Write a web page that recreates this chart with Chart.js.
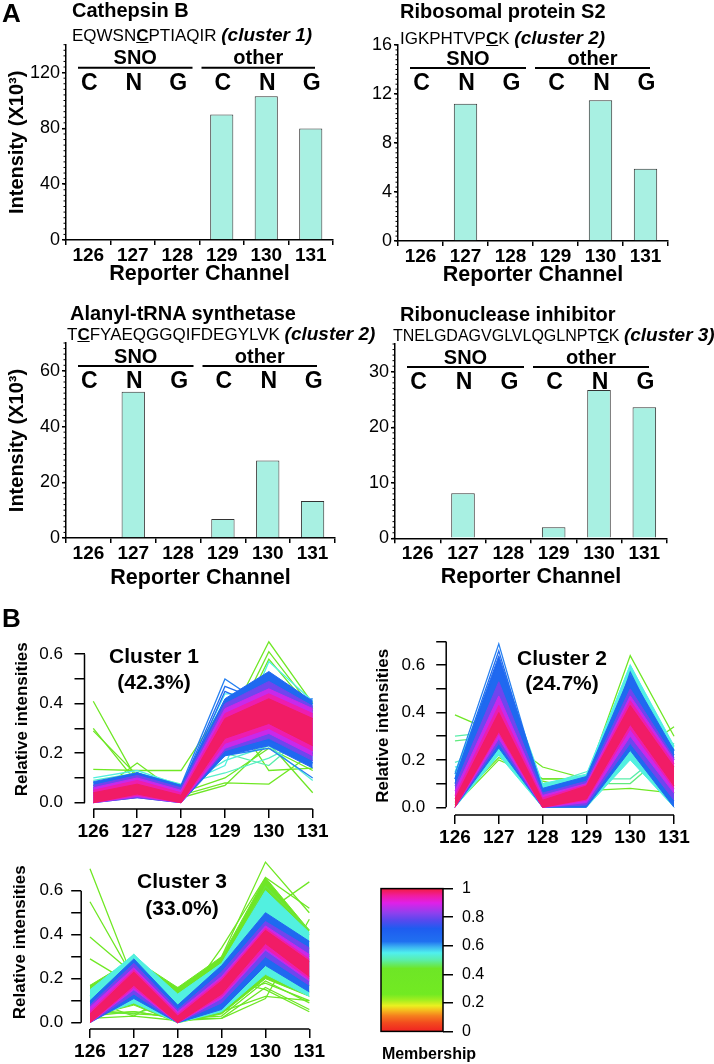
<!DOCTYPE html>
<html>
<head>
<meta charset="utf-8">
<script src="https://cdn.jsdelivr.net/npm/chart.js@4.4.1/dist/chart.umd.min.js"></script>
<style>
  body { margin: 0; background: #fff; }
  #fig { position: relative; width: 714px; height: 1064px; font-family: 'Liberation Sans', Arial, sans-serif; color: #000; overflow: hidden; }
  #fig canvas { position: absolute; }
  .t { position: absolute; white-space: nowrap; line-height: 1; }
  .title { font-weight: bold; font-size: 20px; }
  .seq { font-size: 17px; }
  .seq i { font-weight: bold; font-size: 19px; }
  .clu { font-weight: bold; font-size: 21px; text-align: center; width: 120px; }
</style>
</head>
<body>
<div id="fig">
  <canvas id="a1" width="357" height="290" style="left:0;top:0"></canvas>
  <canvas id="a2" width="357" height="290" style="left:357px;top:0"></canvas>
  <canvas id="a3" width="357" height="300" style="left:0;top:300px"></canvas>
  <canvas id="a4" width="357" height="300" style="left:357px;top:300px"></canvas>
  <canvas id="b1" width="345" height="250" style="left:0;top:595px"></canvas>
  <canvas id="b2" width="357" height="250" style="left:357px;top:595px"></canvas>
  <canvas id="b3" width="345" height="234" style="left:0;top:830px"></canvas>
  <canvas id="cb" width="120" height="180" style="left:370px;top:870px"></canvas>

  <div class="t" style="left:2px;top:0;font-size:26px;font-weight:bold">A</div>
  <div class="t title" style="left:72px;top:0">Cathepsin B</div>
  <div class="t seq" style="left:72px;top:25px">EQWSN<b><u>C</u></b>PTIAQIR <i>(cluster 1)</i></div>
  <div class="t title" style="left:400px;top:1px">Ribosomal protein S2</div>
  <div class="t seq" style="left:400px;top:28px">IGKPHTVP<b><u>C</u></b>K <i>(cluster 2)</i></div>
  <div class="t title" style="left:70px;top:303px">Alanyl-tRNA synthetase</div>
  <div class="t seq" style="left:67px;top:324px">T<b><u>C</u></b>FYAEQGGQIFDEGYLVK <i>(cluster 2)</i></div>
  <div class="t title" style="left:400px;top:304px">Ribonuclease inhibitor</div>
  <div class="t seq" style="left:393px;top:325px;font-size:16px">TNELGDAGVGLVLQGLNPT<b><u>C</u></b>K <i>(cluster 3)</i></div>

  <div class="t" style="left:2px;top:605px;font-size:26px;font-weight:bold">B</div>
  <div class="t clu" style="left:94px;top:645px">Cluster 1</div>
  <div class="t clu" style="left:94px;top:671px">(42.3%)</div>
  <div class="t clu" style="left:502px;top:647px">Cluster 2</div>
  <div class="t clu" style="left:502px;top:672px">(24.7%)</div>
  <div class="t clu" style="left:122px;top:870px">Cluster 3</div>
  <div class="t clu" style="left:122px;top:897px">(33.0%)</div>
  <div class="t" style="left:369px;width:120px;text-align:center;top:1046px;font-size:16px;font-weight:bold">Membership</div>
</div>

<script>
const FONT = "'Liberation Sans', Arial, sans-serif";
Chart.defaults.font.family = FONT;
Chart.defaults.color = '#000';

const channels = ['126', '127', '128', '129', '130', '131'];
const channelNum = [126, 127, 128, 129, 130, 131];
const treatments = ['C', 'N', 'G', 'C', 'N', 'G'];
const groups = ['SNO', 'other'];

// panel A, intensity (x10^3) per reporter channel
const cathepsinB = [0, 0, 0, 90, 103, 80];
const ribosomalS2 = [0, 11.2, 0, 0, 11.5, 5.9];
const alanylTrna = [0, 52.5, 0, 6.8, 27.8, 13.3];
const ribonucInh = [0, 8.1, 0, 2, 26.7, 23.6];

// panel B, axis ticks
const membershipTicks = [0, 0.2, 0.4, 0.6, 0.8, 1];
const relTicks6 = [0, 0.1, 0.2, 0.3, 0.4, 0.5, 0.6];
const relTicks7 = [0, 0.1, 0.2, 0.3, 0.4, 0.5, 0.6, 0.7];

// cluster 1: single profiles and dense bands, each with a membership value
const c1Lines = [
  [0.41, 0.09, 0.06, 0.30, 0.65, 0.40],
  [0.30, 0.08, 0.05, 0.25, 0.61, 0.38],
  [0.29, 0.11, 0.07, 0.22, 0.58, 0.37],
  [0.135, 0.13, 0.13, 0.40, 0.13, 0.14],
  [0.03, 0.16, 0.03, 0.08, 0.075, 0.20],
  [0.02, 0.10, 0.02, 0.07, 0.24, 0.04],
  [0.04, 0.12, 0.04, 0.10, 0.22, 0.13],
  [0.10, 0.13, 0.07, 0.15, 0.57, 0.41],
  [0.09, 0.12, 0.075, 0.12, 0.18, 0.27],
  [0.05, 0.10, 0.05, 0.20, 0.15, 0.30],
  [0.08, 0.11, 0.06, 0.44, 0.44, 0.40],
  [0.07, 0.12, 0.06, 0.17, 0.23, 0.09],
  [0.08, 0.12, 0.07, 0.50, 0.38, 0.42],
  [0.07, 0.11, 0.06, 0.47, 0.40, 0.39],
  [0.05, 0.12, 0.05, 0.45, 0.37, 0.40],
  [0.04, 0.09, 0.04, 0.22, 0.27, 0.16],
  [0.06, 0.11, 0.05, 0.19, 0.22, 0.10],
  [0.03, 0.08, 0.03, 0.28, 0.25, 0.20]
];
const c1LineMem = [0.38, 0.40, 0.42, 0.36, 0.36, 0.42, 0.44, 0.54, 0.52, 0.50, 0.55, 0.53, 0.62, 0.64, 0.66, 0.64, 0.62, 0.68];
const c1BandLo = [
  [0, 0.02, 0, 0.19, 0.23, 0.14],
  [0, 0.02, 0, 0.21, 0.26, 0.17],
  [0, 0.025, 0, 0.22, 0.28, 0.19],
  [0, 0.03, 0, 0.24, 0.30, 0.21],
  [0, 0.035, 0, 0.26, 0.32, 0.23]
];
const c1BandHi = [
  [0.085, 0.12, 0.07, 0.42, 0.53, 0.41],
  [0.07, 0.11, 0.06, 0.40, 0.49, 0.39],
  [0.06, 0.10, 0.05, 0.38, 0.46, 0.38],
  [0.05, 0.09, 0.04, 0.36, 0.44, 0.36],
  [0.04, 0.075, 0.03, 0.34, 0.42, 0.34]
];
const c1BandMem = [0.66, 0.8, 0.88, 0.94, 0.98];

// cluster 2
const c2Lines = [
  [0.39, 0.31, 0.17, 0.12, 0.22, 0.06],
  [0.01, 0.20, 0.12, 0.12, 0.64, 0.30],
  [0.02, 0.21, 0.11, 0.07, 0.08, 0.06],
  [0.12, 0.22, 0.12, 0.12, 0.21, 0.34],
  [0.30, 0.32, 0.10, 0.12, 0.12, 0.27],
  [0.28, 0.30, 0.085, 0.10, 0.10, 0.26],
  [0.19, 0.25, 0.09, 0.15, 0.22, 0.26],
  [0.17, 0.23, 0.08, 0.13, 0.60, 0.24],
  [0.14, 0.69, 0.05, 0.02, 0.55, 0.22],
  [0.12, 0.66, 0.04, 0.05, 0.50, 0.24],
  [0.10, 0.62, 0.03, 0.03, 0.57, 0.20]
];
const c2LineMem = [0.38, 0.40, 0.36, 0.42, 0.50, 0.48, 0.52, 0.55, 0.62, 0.64, 0.66];
const c2BandLo = [
  [0, 0.22, 0, 0, 0.20, 0],
  [0, 0.25, 0, 0, 0.24, 0],
  [0, 0.27, 0, 0.01, 0.27, 0.03],
  [0, 0.29, 0, 0.02, 0.30, 0.06],
  [0, 0.31, 0, 0.03, 0.33, 0.08],
  [0, 0.32, 0, 0.035, 0.35, 0.09]
];
const c2BandHi = [
  [0.15, 0.62, 0.10, 0.14, 0.60, 0.26],
  [0.12, 0.64, 0.08, 0.13, 0.56, 0.24],
  [0.09, 0.53, 0.06, 0.11, 0.50, 0.21],
  [0.07, 0.47, 0.05, 0.10, 0.47, 0.20],
  [0.05, 0.43, 0.04, 0.095, 0.45, 0.185],
  [0.035, 0.40, 0.03, 0.09, 0.43, 0.17]
];
const c2BandMem = [0.54, 0.66, 0.8, 0.88, 0.94, 0.98];

// cluster 3
const c3Lines = [
  [0.70, 0.19, 0.05, 0.10, 0.40, 0.30],
  [0.55, 0.20, 0.03, 0.15, 0.50, 0.64],
  [0.39, 0.22, 0.06, 0.34, 0.66, 0.52],
  [0.29, 0.17, 0.10, 0.30, 0.73, 0.50],
  [0.03, 0.05, 0.02, 0.02, 0.11, 0.47],
  [0.10, 0.03, 0.15, 0.20, 0.15, 0.05],
  [0.02, 0.03, 0.01, 0.02, 0.16, 0.06],
  [0.04, 0.05, 0.02, 0.03, 0.19, 0.09],
  [0.06, 0.04, 0.03, 0.05, 0.12, 0.10],
  [0.17, 0.12, 0.16, 0.12, 0.18, 0.10],
  [0.05, 0.04, 0.10, 0.25, 0.62, 0.42],
  [0.12, 0.31, 0.08, 0.24, 0.58, 0.40]
];
const c3LineMem = [0.36, 0.38, 0.40, 0.36, 0.38, 0.40, 0.42, 0.40, 0.38, 0.44, 0.45, 0.52];
const c3BandLo = [
  [0.03, 0.08, 0, 0.04, 0.20, 0.12],
  [0.02, 0.09, 0, 0.05, 0.22, 0.12],
  [0, 0.11, 0, 0.06, 0.26, 0.14],
  [0, 0.13, 0, 0.09, 0.30, 0.17],
  [0, 0.15, 0, 0.11, 0.33, 0.19],
  [0, 0.16, 0, 0.12, 0.34, 0.20],
  [0, 0.17, 0, 0.13, 0.36, 0.21]
];
const c3BandHi = [
  [0.17, 0.29, 0.16, 0.30, 0.66, 0.42],
  [0.15, 0.31, 0.13, 0.27, 0.60, 0.41],
  [0.10, 0.29, 0.08, 0.26, 0.50, 0.37],
  [0.08, 0.27, 0.06, 0.23, 0.46, 0.34],
  [0.07, 0.25, 0.05, 0.21, 0.44, 0.31],
  [0.05, 0.24, 0.04, 0.20, 0.43, 0.29],
  [0.04, 0.23, 0.03, 0.19, 0.42, 0.28]
];
const c3BandMem = [0.42, 0.54, 0.66, 0.8, 0.88, 0.94, 0.98];

// colour map for membership (0 = red ... 1 = red/pink)
const memStops = [
  [0, '#f02222'], [0.06, '#f24a1e'], [0.11, '#f5801e'], [0.15, '#f5c01e'], [0.18, '#eaf020'],
  [0.22, '#a2ee20'], [0.26, '#72ea22'], [0.44, '#6ee626'], [0.5, '#5aeeaa'], [0.55, '#50f0ee'],
  [0.59, '#3cb4f2'], [0.63, '#2070f0'], [0.72, '#1e5cf0'], [0.78, '#5a48ee'], [0.83, '#9040ee'],
  [0.9, '#e020e8'], [0.95, '#f01ca0'], [1, '#f21c40']
];
function memColor(m) {
  let i = 1;
  while (i < memStops.length - 1 && memStops[i][0] < m) i++;
  const [t0, c0] = memStops[i - 1], [t1, c1] = memStops[i];
  const f = Math.min(1, Math.max(0, (m - t0) / (t1 - t0)));
  const rgb = c => [1, 3, 5].map(k => parseInt(c.substr(k, 2), 16));
  const a = rgb(c0), b = rgb(c1);
  return 'rgb(' + a.map((v, k) => Math.round(v + (b[k] - v) * f)).join(',') + ')';
}

// SNO / other header and minor ticks for panel A
const headerPlugin = {
  id: 'groupHeader',
  afterDraw(chart, args, opts) {
    const { ctx, chartArea: ca, scales: { x, y } } = chart;
    const step = x.getPixelForValue(1) - x.getPixelForValue(0);
    const edge = i => x.getPixelForValue(0) + (i - 0.5) * step;
    ctx.save();
    ctx.fillStyle = '#000';
    ctx.strokeStyle = '#000';
    ctx.lineWidth = 1;
    for (let k = 0; k * opts.minor <= y.max + 1e-9; k++) {
      const py = y.getPixelForValue(k * opts.minor);
      ctx.beginPath(); ctx.moveTo(ca.left - 2.5, py); ctx.lineTo(ca.left, py); ctx.stroke();
    }
    const spans = [[edge(0) + 12, edge(3) - 7], [edge(3) + 2, edge(6) - 18]];
    ctx.lineWidth = 2;
    ctx.textAlign = 'center';
    ctx.textBaseline = 'middle';
    ctx.font = 'bold 20px ' + FONT;
    groups.forEach((g, k) => {
      const [a, b] = spans[k];
      ctx.beginPath(); ctx.moveTo(a, ca.top + 23); ctx.lineTo(b, ca.top + 23); ctx.stroke();
      ctx.fillText(g, (a + b) / 2, ca.top + 14);
    });
    ctx.font = 'bold 23px ' + FONT;
    treatments.forEach((t, i) => ctx.fillText(t, x.getPixelForValue(i) + 1, ca.top + 39));
    ctx.restore();
  }
};

function barPanel(id, values, yMax, yStep, box, yTitle) {
  return new Chart(document.getElementById(id), {
    type: 'bar',
    data: {
      labels: channels,
      datasets: [{
        data: values,
        backgroundColor: '#a8f0e2',
        borderColor: '#333',
        borderWidth: 1,
        categoryPercentage: 1,
        barPercentage: 0.52
      }]
    },
    options: {
      responsive: false,
      animation: false,
      devicePixelRatio: 1,
      layout: { padding: { top: box.padTop, right: box.padRight, left: 0, bottom: 0 } },
      plugins: {
        legend: { display: false },
        tooltip: { enabled: false },
        groupHeader: { minor: yStep / 10 }
      },
      scales: {
        x: {
          offset: true,
          grid: { offset: true, drawOnChartArea: false, tickLength: 5, color: '#000', lineWidth: 1.5 },
          border: { color: '#000', width: 1.5 },
          ticks: { font: { size: 19, weight: 'bold' }, color: '#000', padding: -1, maxRotation: 0 },
          title: {
            display: true, text: 'Reporter Channel', color: '#000',
            font: { size: 21.5, weight: 'bold', lineHeight: 1 },
            padding: { top: 0, bottom: box.xTitlePad }
          },
          afterFit: s => { s.height = box.xHeight; }
        },
        y: {
          min: 0, max: yMax,
          ticks: { stepSize: yStep, includeBounds: false, font: { size: 18 }, color: '#000', padding: 2 },
          grid: { drawOnChartArea: false, tickLength: 4, color: '#000', lineWidth: 1.5 },
          border: { color: '#000', width: 1.5 },
          title: {
            display: !!yTitle, text: yTitle, color: '#000',
            font: { size: 20, weight: 'bold', lineHeight: 1 },
            padding: { top: 7, bottom: 0 }
          },
          afterFit: s => { s.width = box.yWidth; }
        }
      }
    },
    plugins: [headerPlugin]
  });
}

barPanel('a1', cathepsinB, 140, 40, { padTop: 44.7, padRight: 24, yWidth: 66, xHeight: 50, xTitlePad: 5.5 }, 'Intensity (X10³)');
barPanel('a2', ribosomalS2, 16, 4, { padTop: 45, padRight: 46, yWidth: 41, xHeight: 49, xTitlePad: 4.5 }, '');
barPanel('a3', alanylTrna, 70, 20, { padTop: 43, padRight: 22, yWidth: 66, xHeight: 62, xTitlePad: 11.25 }, 'Intensity (X10³)');
barPanel('a4', ribonucInh, 35, 10, { padTop: 44, padRight: 47, yWidth: 38, xHeight: 61.7, xTitlePad: 11.75 }, '');

// R-style axis lines that run from first to last tick
const rAxesPlugin = {
  id: 'rAxes',
  afterDraw(chart, args, opts) {
    const { ctx, chartArea: ca, scales: { x, y } } = chart;
    ctx.save();
    ctx.strokeStyle = '#000';
    ctx.lineWidth = 1.5;
    ctx.beginPath();
    ctx.moveTo(ca.left, y.getPixelForValue(opts.yTicks[0]));
    ctx.lineTo(ca.left, y.getPixelForValue(opts.yTicks[opts.yTicks.length - 1]));
    ctx.moveTo(x.getPixelForValue(channelNum[0]), ca.bottom);
    ctx.lineTo(x.getPixelForValue(channelNum[channelNum.length - 1]), ca.bottom);
    ctx.stroke();
    ctx.restore();
  }
};

function clusterChart(id, lines, lineMem, bandLo, bandHi, bandMem, ax) {
  const items = [];
  lines.forEach((v, i) => items.push({ m: lineMem[i], v }));
  bandLo.forEach((lo, i) => items.push({ m: bandMem[i], lo, hi: bandHi[i] }));
  items.sort((a, b) => b.m - a.m);
  const pts = v => v.map((y, i) => ({ x: channelNum[i], y }));
  const datasets = [];
  items.forEach(it => {
    const c = memColor(it.m);
    if (it.v) {
      datasets.push({ data: pts(it.v), borderColor: c, borderWidth: 1.3, fill: false });
    } else {
      datasets.push({ data: pts(it.hi), borderColor: c, backgroundColor: c, borderWidth: 1, fill: '+1' });
      datasets.push({ data: pts(it.lo), borderColor: c, borderWidth: 1, fill: false });
    }
  });
  return new Chart(document.getElementById(id), {
    type: 'line',
    data: { datasets },
    options: {
      responsive: false,
      animation: false,
      devicePixelRatio: 1,
      elements: { point: { radius: 0 }, line: { tension: 0 } },
      layout: { padding: { top: ax.padTop, right: ax.padRight, left: 0, bottom: 0 } },
      plugins: { legend: { display: false }, tooltip: { enabled: false }, rAxes: { yTicks: ax.yTicks } },
      scales: {
        x: {
          type: 'linear', min: 125.8, max: 131.2, bounds: 'data',
          afterBuildTicks: s => { s.ticks = channelNum.map(value => ({ value })); },
          ticks: { font: { size: 19, weight: 'bold' }, color: '#000', padding: 2, autoSkip: false, maxRotation: 0 },
          grid: { drawOnChartArea: false, tickLength: 9, color: '#000', lineWidth: 1.5 },
          border: { display: false },
          afterFit: s => { s.height = ax.xHeight; }
        },
        y: {
          min: ax.yMin, max: ax.yMax, bounds: 'data',
          afterBuildTicks: s => { s.ticks = ax.yTicks.map(value => ({ value })); },
          ticks: {
            font: { size: 17 }, color: '#000', padding: ax.yTickPad, autoSkip: false,
            callback: (v, i) => (i % 2 === 0 ? v.toFixed(1) : '')
          },
          grid: { drawOnChartArea: false, tickLength: 10, color: '#000', lineWidth: 1.5 },
          border: { display: false },
          title: {
            display: true, text: 'Relative intensities', color: '#000',
            font: { size: 17, weight: 'bold', lineHeight: 1 },
            padding: { top: ax.yTitlePad, bottom: 0 }
          },
          afterFit: s => { s.width = ax.yWidth; }
        }
      }
    },
    plugins: [rAxesPlugin]
  });
}

clusterChart('b1', c1Lines, c1LineMem, c1BandLo, c1BandHi, c1BandMem,
  { padTop: 34.45, padRight: 23.5, yWidth: 84.5, xHeight: 36, yMin: -0.0255, yMax: 0.7, yTicks: relTicks6, yTickPad: 11.5, yTitlePad: 13.5 });
clusterChart('b2', c2Lines, c2LineMem, c2BandLo, c2BandHi, c2BandMem,
  { padTop: 41.7, padRight: 31.2, yWidth: 89.2, xHeight: 30, yMin: -0.0325, yMax: 0.72, yTicks: relTicks7, yTickPad: 11, yTitlePad: 18 });
clusterChart('b3', c3Lines, c3LineMem, c3BandLo, c3BandHi, c3BandMem,
  { padTop: 25.5, padRight: 26.9, yWidth: 81.2, xHeight: 35, yMin: -0.0286, yMax: 0.76, yTicks: relTicks6, yTickPad: 8, yTitlePad: 12 });

// membership colour bar
const gradientPlugin = {
  id: 'memGradient',
  beforeDatasetsDraw(chart) {
    const { ctx, chartArea: ca, scales: { y } } = chart;
    const g = ctx.createLinearGradient(0, y.getPixelForValue(0), 0, y.getPixelForValue(1));
    memStops.forEach(([t, c]) => g.addColorStop(t, c));
    ctx.save();
    ctx.fillStyle = g;
    ctx.fillRect(ca.left, ca.top, ca.width, ca.height);
    ctx.lineWidth = 1.5;
    ctx.strokeStyle = '#000';
    ctx.strokeRect(ca.left, ca.top, ca.width, ca.height);
    ctx.restore();
  }
};

new Chart(document.getElementById('cb'), {
  type: 'bar',
  data: { labels: [''], datasets: [] },
  options: {
    responsive: false,
    animation: false,
    devicePixelRatio: 1,
    layout: { padding: { top: 16, right: 0, left: 11, bottom: 13 } },
    plugins: { legend: { display: false }, tooltip: { enabled: false } },
    scales: {
      x: { display: false },
      y: {
        position: 'right', min: 0, max: 1,
        afterBuildTicks: s => { s.ticks = membershipTicks.map(value => ({ value })); },
        ticks: { font: { size: 16 }, color: '#000', padding: 9, callback: v => String(v) },
        grid: { drawOnChartArea: false, tickLength: 10, color: '#000', lineWidth: 1.5 },
        border: { display: false },
        afterFit: s => { s.width = 47; }
      }
    }
  },
  plugins: [gradientPlugin]
});
</script>
</body>
</html>
